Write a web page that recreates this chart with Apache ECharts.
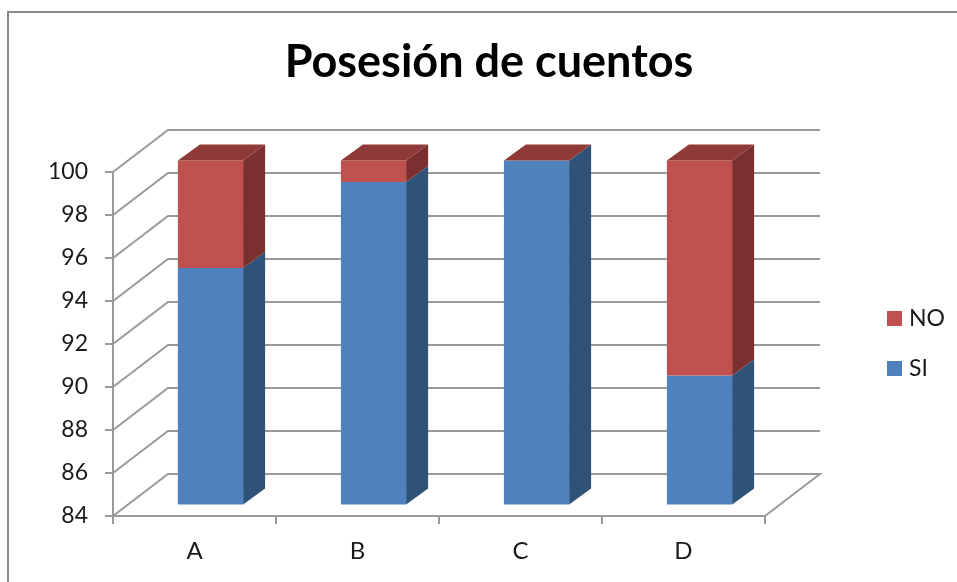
<!DOCTYPE html>
<html><head><meta charset="utf-8">
<style>html,body{margin:0;padding:0;background:#fff}#c{width:957px;height:582px}</style>
<script src="https://cdn.jsdelivr.net/npm/echarts@6/dist/echarts.min.js"></script>
</head><body><div id="c"></div>
<script>
const categories = ['A','B','C','D'];
const siValues = [95,99,100,90];
const noValues = [5,1,0,10];
const yTicks = [84,86,88,90,92,94,96,98,100];
const FONT = 'Lato, "Open Sans", sans-serif';
const GRID = '#9a9a9a';
const WALL = [55,-42], PLANE = [16,-11.5], DEPTH = [22,-16];
const chart = echarts.init(document.getElementById('c'));

function wallItem(params, api) {
  const cs = params.coordSys;
  const p = api.coord([0, api.value(0)]);
  const y = p[1], x0 = cs.x, x1 = cs.x + cs.width;
  const pts = [[x0,y],[x0+WALL[0],y+WALL[1]],[x1+WALL[0],y+WALL[1]]];
  if (api.value(0) === yTicks[0]) pts.push([x1,y]);
  return {type:'polyline',shape:{points:pts},style:{fill:null,stroke:GRID,lineWidth:2},silent:true};
}
function faces(front, side, top, showTop) {
  return function (params, api) {
    const i = api.value(0);
    const c0 = api.coord([i, api.value(1)]);
    const c1 = api.coord([i, api.value(2)]);
    const w = api.size([1,0])[0] * 0.4;
    const xl = c0[0] - w/2 + PLANE[0], xr = xl + w;
    const yb = c0[1] + PLANE[1], yt = c1[1] + PLANE[1];
    const d = DEPTH, kids = [];
    kids.push({type:'polygon',shape:{points:[[xr,yb],[xr+d[0],yb+d[1]],[xr+d[0],yt+d[1]],[xr,yt]]},style:{fill:side}});
    kids.push({type:'polygon',shape:{points:[[xl,yb],[xr,yb],[xr,yt],[xl,yt]]},style:{fill:front}});
    if (showTop) kids.push({type:'polygon',shape:{points:[[xl,yt],[xr,yt],[xr+d[0],yt+d[1]],[xl+d[0],yt+d[1]]]},style:{fill:top}});
    return {type:'group',children:kids};
  };
}
const siData = categories.map((c,i)=>[i, yTicks[0], siValues[i]]);
const noData = categories.map((c,i)=>[i, siValues[i], siValues[i]+noValues[i]]);

chart.setOption({
  animation:false,
  backgroundColor:'#fff',
  title:{text:'Posesión de cuentos',left:484,top:35,textAlign:'center',
    textStyle:{fontFamily:FONT,fontSize:45,fontWeight:'bold',color:'#000'}},
  legend:{orient:'vertical',left:882,top:302,itemWidth:15,itemHeight:15,itemGap:27,itemStyle:{borderWidth:0},
    icon:'rect',data:['NO','SI'],selectedMode:false,
    textStyle:{fontFamily:FONT,fontSize:23,color:'#1a1a1a',padding:[0,0,0,2]}},
  grid:{left:113,right:192,top:172,bottom:66},
  xAxis:{type:'category',data:categories,
    axisLine:{lineStyle:{color:GRID,width:2}},
    axisTick:{show:true,length:8,lineStyle:{color:GRID,width:2}},
    axisLabel:{fontFamily:FONT,fontSize:24,color:'#1a1a1a',margin:23},splitLine:{show:false}},
  yAxis:{type:'value',min:84,max:100,interval:2,
    axisLine:{show:true,lineStyle:{color:GRID,width:2}},
    axisTick:{show:true,length:8,lineStyle:{color:GRID,width:2}},
    axisLabel:{fontFamily:FONT,fontSize:23,color:'#1a1a1a',margin:25,padding:[3,0,0,0]},splitLine:{show:false}},
  graphic:[{type:'polyline',silent:true,shape:{points:[[8,582],[8,12],[957,12]]},
    style:{fill:null,stroke:'#8a8a8a',lineWidth:2}}],
  series:[
    {type:'custom',name:'walls',silent:true,clip:false,z:1,data:yTicks.map(v=>[v]),
      encode:{y:0},renderItem:wallItem},
    {type:'custom',name:'SI',silent:true,clip:false,z:2,data:siData,encode:{x:0,y:[1,2]},
      itemStyle:{color:'#4f81bd'},renderItem:faces('#4f81bd','#2f5278','#3b618f',false)},
    {type:'custom',name:'NO',silent:true,clip:false,z:3,data:noData,encode:{x:0,y:[1,2]},
      itemStyle:{color:'#c0504d'},renderItem:faces('#c0504d','#7a302e','#8f3a38',true)}
  ]
});
</script></body></html>
